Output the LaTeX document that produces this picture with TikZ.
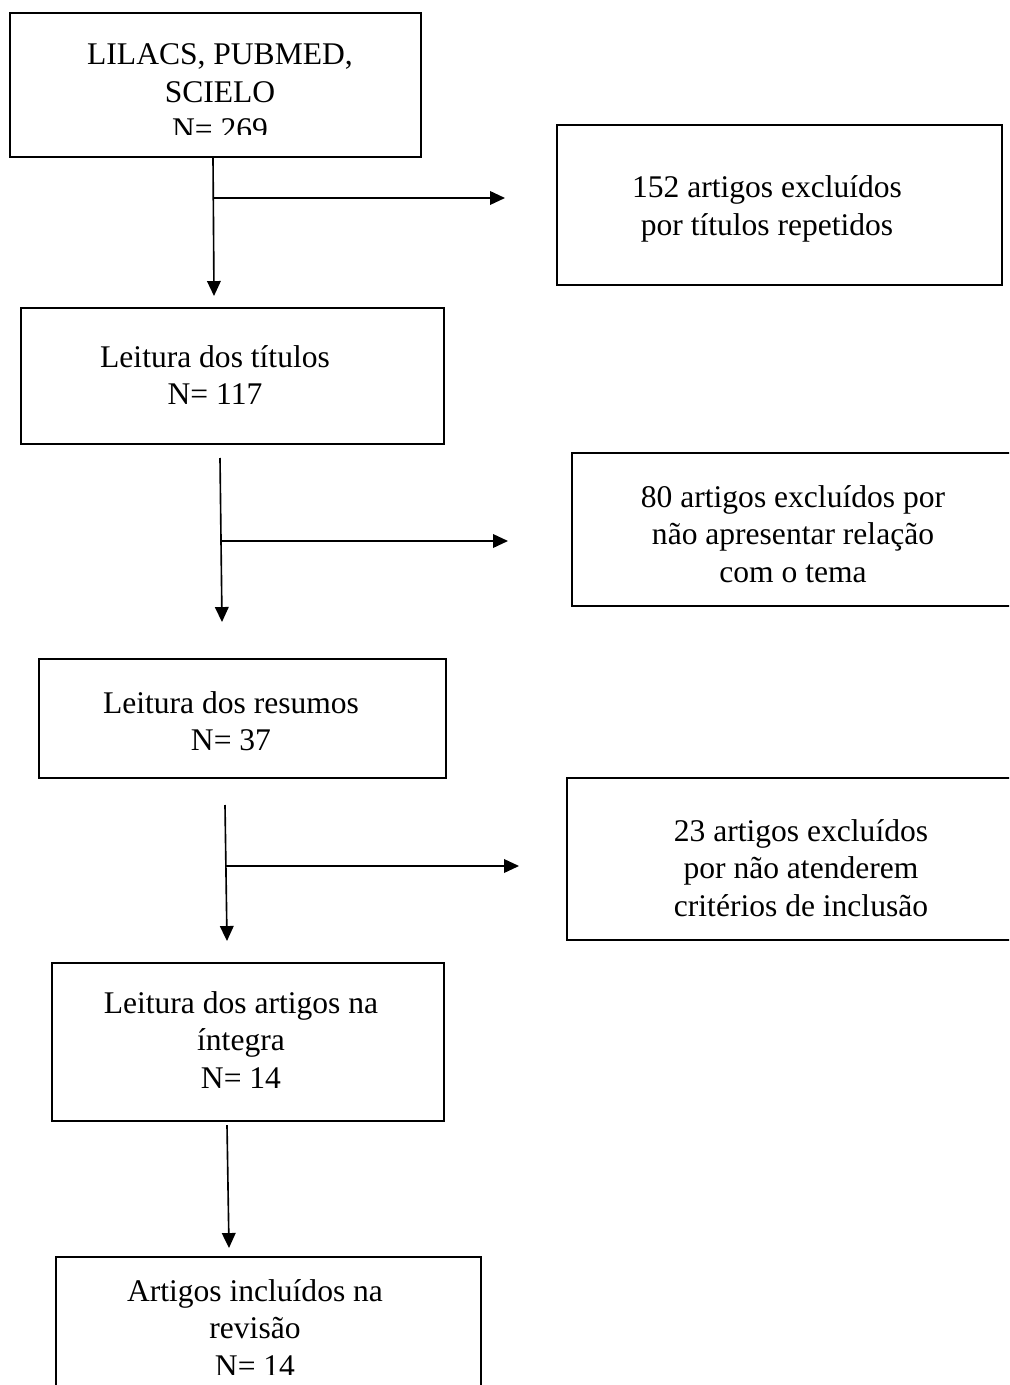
\documentclass[tikz,border=0pt]{standalone}
\usepackage{fontspec}
\setmainfont{Liberation Serif}
\usepackage{tikz}
\usetikzlibrary{fit}
\usetikzlibrary{arrows.meta}

\begin{document}
\begin{tikzpicture}[x=0.3676pt, y=-0.3676pt,
        caixa/.style={draw, line width=0.7pt, inner sep=0pt},
        texto/.style={inner sep=0pt, align=center, font=\fontsize{11.6pt}{13.75pt}\selectfont},
        seta/.style={line width=0.6pt, -{Triangle[length=5.5pt, width=5pt]}}]
            \clip                                               (0, 0) rectangle (1009, 1385);
            \node[caixa, fit={(10, 13) (421, 157)}]      (fontes)  {};
            \node[caixa, fit={(557, 125) (1002, 285)}]   (excl1)   {};
            \node[caixa, fit={(21, 308) (444, 444)}]     (titulos) {};
            \node[caixa, fit={(572, 453) (1030, 606)}]   (excl2)   {};
            \node[caixa, fit={(39, 659) (446, 778)}]     (resumos) {};
            \node[caixa, fit={(567, 778) (1030, 940)}]   (excl3)   {};
            \node[caixa, fit={(52, 963) (444, 1121)}]    (integra) {};
            \node[caixa, fit={(56, 1257) (481, 1400)}]   (revisao) {};

            \begin{scope}
                \clip (10, 13) rectangle (421, 135);
                \node[texto] (fontes-txt)  at (220, 92)   {LILACS, PUBMED,\\SCIELO\\N= 269};
            \end{scope}
            \node[texto] (excl1-txt)   at (767, 209)  {152 artigos excluídos\\por títulos repetidos};
            \node[texto] (titulos-txt) at (215, 375)  {Leitura dos títulos\\N= 117};
            \node[texto] (excl2-txt)   at (793, 534)  {80 artigos excluídos por\\não apresentar relação\\com o tema};
            \node[texto] (resumos-txt) at (231, 721)  {Leitura dos resumos\\N= 37};
            \node[texto] (excl3-txt)   at (801, 868)  {23 artigos excluídos\\por não atenderem\\critérios de inclusão};
            \node[texto] (integra-txt) at (241, 1040) {Leitura dos artigos na\\íntegra\\N= 14};
            \begin{scope}
                \clip (56, 1257) rectangle (481, 1374);
                \node[texto] (revisao-txt) at (255, 1328) {Artigos incluídos na\\revisão\\N= 14};
            \end{scope}

            \coordinate (s1) at (213, 157);  \coordinate (e1) at (214, 296);  \coordinate (b1) at (213, 198);  \coordinate (d1) at (505, 198);
            \coordinate (s2) at (220, 458);  \coordinate (e2) at (222, 622);  \coordinate (b2) at (221, 541);  \coordinate (d2) at (508, 541);
            \coordinate (s3) at (225, 805);  \coordinate (e3) at (227, 941);  \coordinate (b3) at (226, 866);  \coordinate (d3) at (519, 866);
            \coordinate (s4) at (227, 1125); \coordinate (e4) at (229, 1248);

            \draw[seta] (s1) -- (e1);
            \draw[seta] (b1) -- (d1);
            \draw[seta] (s2) -- (e2);
            \draw[seta] (b2) -- (d2);
            \draw[seta] (s3) -- (e3);
            \draw[seta] (b3) -- (d3);
            \draw[seta] (s4) -- (e4);
\end{tikzpicture}
\end{document}
